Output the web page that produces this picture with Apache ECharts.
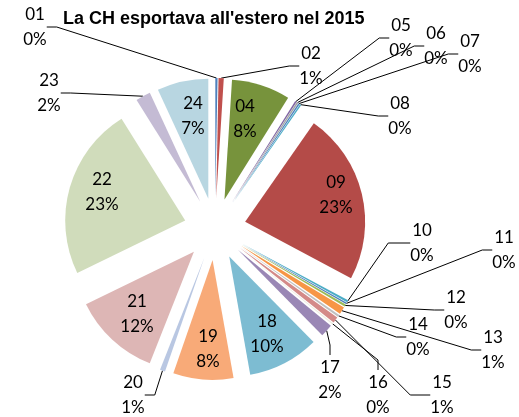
<!DOCTYPE html>
<html>
<head>
<meta charset="utf-8">
<script src="https://cdn.jsdelivr.net/npm/echarts@6/dist/echarts.min.js"></script>
<style>
  html, body { margin: 0; padding: 0; background: #fff; }
  #chart { width: 519px; height: 417px; }
</style>
</head>
<body>
<div id="chart"></div>
<script>
// categorie (capitoli) e quote in % delle esportazioni 2015
const categories = ['01', '02', '04', '05', '06', '07', '08', '09', '10', '11', '12', '13',
  '14', '15', '16', '17', '18', '19', '20', '21', '22', '23', '24'];
const shares = [0.3, 0.7, 7.9, 0.2, 0.2, 0.2, 0.2, 23.1, 0.3, 0.2, 0.3, 1.0,
  0.3, 0.8, 0.2, 1.7, 9.6, 8.1, 0.7, 11.8, 23.3, 2.0, 6.9];

const colors = ['#4F81BD', '#C0504D', '#77933C', '#8064A2', '#A5A5A5', '#4F81BD', '#4BACC6', '#B44B48',
  '#4BACC6', '#4F81BD', '#9BBB59', '#F79646', '#C0C0C0', '#D48A88', '#EEECE1', '#9A87B5',
  '#7DBCD2', '#F8AA78', '#B9C7E2', '#DDB6B5', '#D0DCBB', '#C4BBD4', '#B8D6E1'];

const insideLabels = ['04', '09', '18', '19', '21', '22', '24'];

// label block centres
const labelPos = {
  '01': [35, 27], '02': [311, 66], '04': [245, 119], '05': [401, 38], '06': [436, 46],
  '07': [470, 54], '08': [400, 116], '09': [336, 195], '10': [422, 243], '11': [504, 250],
  '12': [456, 310], '13': [493, 350], '14': [418, 337], '15': [442, 395], '16': [378, 395],
  '17': [330, 380], '18': [267, 334], '19': [208, 349], '20': [133, 395], '21': [137, 314],
  '22': [102, 192], '23': [49, 93], '24': [193, 116]
};
// longer last leader segment where the line should leave from the side
const leaderLen = { '10': 22, '15': 20 };

const CENTER = [215, 229];
const R = 120;
const EXPLODE = 31;

const chart = echarts.init(document.getElementById('chart'));

// exploded slices
const pieData = categories.map((c, i) => ({
  name: c,
  value: shares[i],
  selected: true,
  itemStyle: { color: colors[i] }
}));

// same slices, invisible, reaching the exploded outer edge: carries labels and leader lines
const labelData = categories.map((c, i) => {
  const inside = insideLabels.indexOf(c) >= 0;
  return {
    name: c,
    value: shares[i],
    label: { position: inside ? 'inside' : 'outside' },
    labelLine: { show: !inside, length2: leaderLen[c] || 10 }
  };
});

chart.setOption({
  animation: false,
  backgroundColor: '#fff',
  title: {
    text: "La CH esportava all'estero nel 2015",
    left: 63,
    top: 10,
    padding: 0,
    textStyle: {
      fontFamily: 'Liberation Sans',
      fontWeight: 'bold',
      fontSize: 18,
      color: '#000'
    }
  },
  series: [
    {
      type: 'pie',
      center: CENTER,
      radius: R,
      startAngle: 90,
      clockwise: true,
      selectedMode: 'multiple',
      selectedOffset: EXPLODE,
      silent: true,
      emphasis: { disabled: true },
      itemStyle: { borderWidth: 0 },
      label: { show: false },
      labelLine: { show: false },
      data: pieData
    },
    {
      type: 'pie',
      center: CENTER,
      radius: R + EXPLODE,
      startAngle: 90,
      clockwise: true,
      silent: true,
      avoidLabelOverlap: false,
      emphasis: { disabled: true },
      itemStyle: { color: 'rgba(0,0,0,0)', borderWidth: 0 },
      label: {
        show: true,
        fontFamily: 'Lato',
        fontSize: 17,
        lineHeight: 25,
        color: '#000',
        formatter: p => p.name + '\n' + Math.round(p.percent) + '%'
      },
      labelLine: {
        length: 10,
        length2: 10,
        lineStyle: { color: '#000', width: 1 }
      },
      labelLayout: p => {
        const pos = labelPos[categories[p.dataIndex]];
        return { x: pos[0], y: pos[1], align: 'center', verticalAlign: 'middle' };
      },
      data: labelData
    }
  ]
});
</script>
</body>
</html>
